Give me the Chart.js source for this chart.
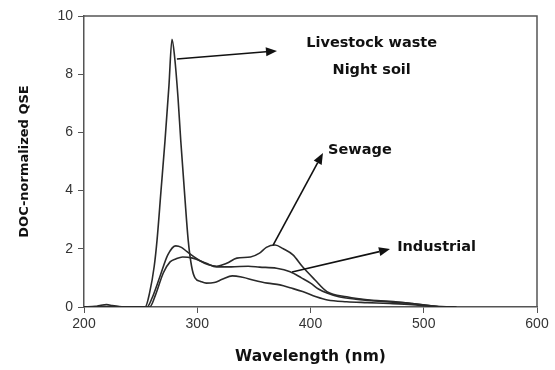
<!DOCTYPE html>
<html lang="en">
<head>
    <meta charset="UTF-8">
    <title>DOC-normalized QSE</title>
    <script src="https://cdn.jsdelivr.net/npm/chart.js"></script>
    <style>
        body {
            margin: 0;
            background: #ffffff;
        }
        .chart-container {
            position: relative;
            width: 555px;
            height: 370px;
        }
    </style>
</head>
<body>
    <div class="chart-container">
        <canvas id="qseChart"></canvas>
    </div>
    <script>
        // Livestock waste / night soil (big peak near 278 nm)
        const wlLivestock = [200, 210, 215, 220, 225, 230, 235, 254, 258, 262, 264.5, 268, 271.5, 275, 277.7, 280, 283, 285.4, 289, 292, 295, 298, 303, 308, 315, 322, 331, 340, 350, 362, 373, 383, 393, 405, 415, 432, 450, 470, 490, 505, 520, 529];
        const qseLivestock = [0, 0.02, 0.06, 0.08, 0.05, 0.02, 0, 0, 0.5, 1.4, 2.3, 4.0, 5.7, 7.6, 9.2, 8.6, 7.2, 5.74, 3.8, 2.3, 1.4, 1.0, 0.88, 0.82, 0.84, 0.95, 1.07, 1.02, 0.92, 0.82, 0.76, 0.65, 0.53, 0.35, 0.24, 0.18, 0.15, 0.12, 0.08, 0.03, 0.01, 0];

        // Sewage (second bump near 370 nm)
        const wlSewage = [200, 255.6, 260, 267, 274, 281, 286, 291, 302, 310, 317, 326, 335, 347, 355, 361, 368.7, 376, 384.5, 393, 404, 414.5, 432, 452, 470, 490, 505, 515];
        const qseSewage = [0, 0, 0.3, 1.04, 1.79, 2.1, 2.05, 1.9, 1.6, 1.45, 1.4, 1.5, 1.68, 1.72, 1.85, 2.05, 2.13, 2.0, 1.79, 1.38, 0.93, 0.53, 0.35, 0.24, 0.2, 0.12, 0.05, 0];

        // Industrial (flat shoulder around 1.4)
        const wlIndustrial = [200, 258, 263, 270, 276, 281, 287, 296, 308, 317, 330, 345, 355, 370, 382, 392, 400, 407, 414.6, 425, 440, 460, 480, 500, 515];
        const qseIndustrial = [0, 0, 0.4, 1.17, 1.55, 1.65, 1.72, 1.68, 1.5, 1.38, 1.38, 1.4, 1.37, 1.33, 1.21, 1.0, 0.82, 0.62, 0.48, 0.35, 0.27, 0.2, 0.15, 0.07, 0];

        // Annotation labels and arrows, in data units (nm, QSE)
        const labelText = ['Livestock waste', 'Night soil', 'Sewage', 'Industrial'];
        const labelX = [454, 454, 415.5, 476.5];
        const labelY = [9.07, 8.14, 5.4, 2.06];
        const labelAlign = ['center', 'center', 'left', 'left'];
        const arrowFrom = [[282, 8.52], [367, 2.13], [383.7, 1.2]];
        const arrowTo = [[370.4, 8.8], [411, 5.29], [470.2, 1.99]];

        const toPoints = (xs, ys) => xs.map((x, i) => ({ x: x, y: ys[i] }));

        const lineStyle = {
            borderColor: '#2a2a2a',
            borderWidth: 1.6,
            pointRadius: 0,
            fill: false,
            cubicInterpolationMode: 'monotone'
        };

        // Draws the plot frame, arrows and text labels using the chart scales
        const annotate = {
            id: 'annotate',
            afterDatasetsDraw(chart) {
                const { ctx, chartArea, scales } = chart;
                const sx = scales.x, sy = scales.y;
                ctx.save();
                ctx.strokeStyle = '#555';
                ctx.lineWidth = 1.5;
                ctx.beginPath();
                ctx.moveTo(chartArea.left, chartArea.top);
                ctx.lineTo(chartArea.right, chartArea.top);
                ctx.lineTo(chartArea.right, chartArea.bottom);
                ctx.stroke();

                ctx.strokeStyle = '#111';
                ctx.fillStyle = '#111';
                ctx.lineWidth = 1.6;
                arrowFrom.forEach((p, i) => {
                    const x1 = sx.getPixelForValue(p[0]), y1 = sy.getPixelForValue(p[1]);
                    const x2 = sx.getPixelForValue(arrowTo[i][0]), y2 = sy.getPixelForValue(arrowTo[i][1]);
                    const a = Math.atan2(y2 - y1, x2 - x1);
                    const len = 11, half = 4.5;
                    const bx = x2 - len * Math.cos(a), by = y2 - len * Math.sin(a);
                    ctx.beginPath();
                    ctx.moveTo(x1, y1);
                    ctx.lineTo(bx, by);
                    ctx.stroke();
                    ctx.beginPath();
                    ctx.moveTo(x2, y2);
                    ctx.lineTo(bx + half * Math.sin(a), by - half * Math.cos(a));
                    ctx.lineTo(bx - half * Math.sin(a), by + half * Math.cos(a));
                    ctx.closePath();
                    ctx.fill();
                });

                ctx.font = 'bold 14.5px "DejaVu Sans", Verdana, sans-serif';
                ctx.textBaseline = 'middle';
                labelText.forEach((t, i) => {
                    ctx.textAlign = labelAlign[i];
                    ctx.fillText(t, sx.getPixelForValue(labelX[i]), sy.getPixelForValue(labelY[i]));
                });
                ctx.restore();
            }
        };

        const ctx = document.getElementById('qseChart').getContext('2d');
        new Chart(ctx, {
            type: 'line',
            data: {
                datasets: [
                    { label: 'Livestock waste / Night soil', data: toPoints(wlLivestock, qseLivestock), ...lineStyle },
                    { label: 'Sewage', data: toPoints(wlSewage, qseSewage), ...lineStyle },
                    { label: 'Industrial', data: toPoints(wlIndustrial, qseIndustrial), ...lineStyle }
                ]
            },
            options: {
                responsive: true,
                maintainAspectRatio: false,
                animation: false,
                layout: { padding: { top: 16, right: 18, left: 0, bottom: 0 } },
                plugins: {
                    legend: { display: false },
                    tooltip: { enabled: false }
                },
                scales: {
                    x: {
                        type: 'linear',
                        min: 200,
                        max: 600,
                        ticks: {
                            stepSize: 100,
                            color: '#333',
                            padding: 3,
                            font: { family: '"Liberation Sans", Arial, sans-serif', size: 14 }
                        },
                        grid: { drawOnChartArea: false, tickLength: 6, color: '#555', tickColor: '#555' },
                        border: { color: '#555', width: 1.5 },
                        title: {
                            display: true,
                            text: 'Wavelength (nm)',
                            color: '#111',
                            padding: { top: 4, bottom: 4 },
                            font: { family: '"DejaVu Sans", Verdana, sans-serif', size: 15.5, weight: 'bold' }
                        },
                        afterFit(scale) { scale.height = 63; }
                    },
                    y: {
                        min: 0,
                        max: 10,
                        ticks: {
                            stepSize: 2,
                            color: '#333',
                            padding: 5,
                            font: { family: '"Liberation Sans", Arial, sans-serif', size: 14 }
                        },
                        grid: { drawOnChartArea: false, tickLength: 6, color: '#555', tickColor: '#555' },
                        border: { color: '#555', width: 1.5 },
                        title: {
                            display: true,
                            text: 'DOC-normalized QSE',
                            color: '#111',
                            padding: { top: 17, bottom: 0 },
                            font: { family: '"DejaVu Sans", Verdana, sans-serif', size: 13, weight: 'bold' }
                        },
                        afterFit(scale) { scale.width = 84; }
                    }
                }
            },
            plugins: [annotate]
        });
    </script>
</body>
</html>
